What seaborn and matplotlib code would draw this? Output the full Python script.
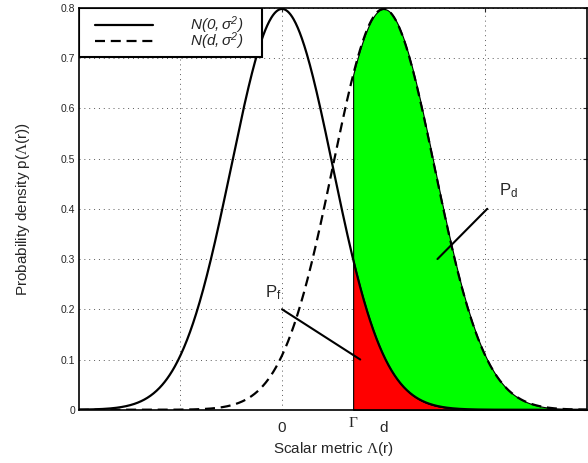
import numpy as np
import pandas as pd
import matplotlib
matplotlib.use('Agg')
import matplotlib.pyplot as plt
from matplotlib.patches import Rectangle
import seaborn as sns

# Parameters
sigma = 0.5          # common standard deviation
means = [0.0, 1.0]   # 0 and d
gamma = 0.7          # threshold Gamma
x_limits = [-2, 3]
y_limits = [0, 0.8]
curve_labels = [r'$\mathsf{N(0,\sigma^2)}$', r'$\mathsf{N(d,\sigma^2)}$']
x_grid = [-1, 0, 1, 2]
x_grid_labels = ['', '0', 'd', '']
y_ticks = [0, 0.1, 0.2, 0.3, 0.4, 0.5, 0.6, 0.7, 0.8]
y_tick_labels = ['0', '0.1', '0.2', '0.3', '0.4', '0.5', '0.6', '0.7', '0.8']

# annotation pointers (data coords)
pf_line = ([0.0, 0.77], [0.2, 0.1])
pd_line = ([2.02, 1.53], [0.40, 0.30])
pf_text = (-0.17, 0.224)
pd_text = (2.14, 0.427)

sns.set_style('white')
plt.rcParams['font.family'] = ['Liberation Sans', 'DejaVu Sans']
plt.rcParams['mathtext.fontset'] = 'custom'
plt.rcParams['mathtext.rm'] = 'Liberation Serif'
plt.rcParams['mathtext.it'] = 'Liberation Sans:italic'
plt.rcParams['mathtext.sf'] = 'Liberation Sans:italic'

x = np.union1d(np.linspace(x_limits[0], x_limits[1], 1001), [gamma])


def gauss(mu):
    return np.exp(-(x - mu) ** 2 / (2 * sigma ** 2)) / (sigma * np.sqrt(2 * np.pi))


p0 = gauss(means[0])
p1 = gauss(means[1])
dash = (4.5, 2.6)

fig, ax = plt.subplots(figsize=(5.88, 4.63), dpi=100)
fig.subplots_adjust(left=0.134, right=0.998, bottom=0.115, top=0.983)

# shaded regions right of the threshold
m = x >= gamma
ax.fill_between(x[m], 0, p0[m], facecolor='#ff0000', edgecolor='k', lw=0.8, zorder=1)
ax.fill_between(x[m], p0[m], p1[m], facecolor='#00ff00', edgecolor='k', lw=0.8, zorder=1)

df = pd.DataFrame({'x': x, 'p0': p0, 'p1': p1})
sns.lineplot(data=df, x='x', y='p0', color='k', lw=1.6, ax=ax, zorder=3)
sns.lineplot(data=df, x='x', y='p1', color='k', lw=1.6, ax=ax, zorder=3)
ax.lines[1].set_dashes(dash)

# pointers and labels
ax.plot(*pf_line, color='k', lw=1.5, zorder=4)
ax.plot(*pd_line, color='k', lw=1.5, zorder=4)
ax.text(*pf_text, r'$\mathregular{P_f}$', fontsize=12, ha='left', va='baseline')
ax.text(*pd_text, r'$\mathregular{P_d}$', fontsize=12, ha='left', va='baseline')

ax.set_xlim(x_limits)
ax.set_ylim(y_limits)
ax.set_xticks(x_grid)
ax.set_xticklabels(x_grid_labels, fontsize=11)
ax.set_yticks(y_ticks)
ax.set_yticklabels(y_tick_labels, fontsize=7.5)
ax.tick_params(direction='in', length=3, width=0.8, top=True, right=True, pad=8)
ax.tick_params(axis='y', pad=2.5)
ax.annotate(r'$\Gamma$', xy=(gamma, 0), xycoords=('data', 'axes fraction'),
            xytext=(0, -6), textcoords='offset pixels', ha='center', va='top', fontsize=11)

ax.grid(True, color='0.35', ls=(0, (1, 4)), lw=0.7)
ax.set_axisbelow(True)
for s in ax.spines.values():
    s.set_linewidth(1.2)
    s.set_color('k')

ax.set_xlabel(r'Scalar metric $\Lambda$(r)', fontsize=11, labelpad=4)
ax.set_ylabel(r'Probability density p($\Lambda$(r))', fontsize=11, labelpad=21)

# legend box drawn by hand (matlab style, tight rows)
ax.add_patch(Rectangle((0, 0.878), 0.36, 0.122, transform=ax.transAxes,
                       facecolor='white', edgecolor='k', lw=1.5, zorder=5))
for row_y, lbl, ls in zip([0.958, 0.918], curve_labels, ['-', '--']):
    ln, = ax.plot([0.031, 0.146], [row_y, row_y], color='k', lw=1.6, ls=ls,
                  transform=ax.transAxes, zorder=6)
    if ls == '--':
        ln.set_dashes(dash)
    ax.text(0.219, row_y, lbl, fontsize=11, ha='left', va='center',
            transform=ax.transAxes, zorder=6)

fig.savefig('out.png', dpi=100)
